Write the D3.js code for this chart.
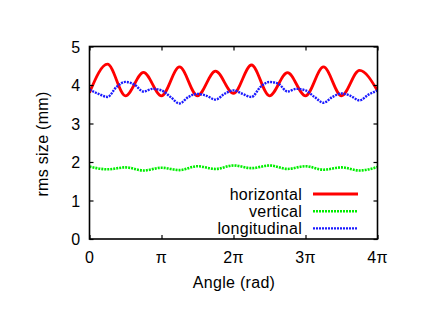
<!DOCTYPE html>
<html>
<head>
<meta charset="utf-8">
<script src="https://cdn.jsdelivr.net/npm/d3@7"></script>
<style>
  html, body { margin: 0; padding: 0; background: #fff; }
  svg { display: block; font-family: "Liberation Sans", Arial, sans-serif; }
  .lbl { font-size: 16px; letter-spacing: 0.3px; fill: #000; }
</style>
</head>
<body>
<svg id="chart" width="421" height="325"></svg>
<script>
// Angles en multiples de pi
const angleQuarter = d3.range(0, 17).map(k => k / 4);
const angleEighth = d3.range(0, 33).map(k => k / 8);

// Tailles rms (mm)
const horizontal = [3.80, 4.54, 3.72, 4.33, 3.72, 4.47, 3.72, 4.36, 3.78,
                    4.52, 3.72, 4.32, 3.72, 4.47, 3.72, 4.38, 3.85];
const vertical = [1.88, 1.81, 1.86, 1.78, 1.85, 1.79, 1.89, 1.82, 1.91,
                  1.84, 1.91, 1.82, 1.89, 1.80, 1.86, 1.78, 1.87];
const longitudinal = [3.88, 3.77, 3.69, 3.95, 4.08, 4.01, 3.83, 3.90, 3.86,
                      3.69, 3.52, 3.69, 3.77, 3.72, 3.62, 3.77, 3.86,
                      3.77, 3.69, 3.95, 4.08, 4.03, 3.83, 3.90, 3.86,
                      3.69, 3.54, 3.69, 3.78, 3.72, 3.60, 3.75, 3.86];

const seriesNames = ['horizontal', 'vertical', 'longitudinal'];
const xTickValues = [0, 1, 2, 3, 4];
const xTickLabels = ['0', 'π', '2π', '3π', '4π'];
const yTickValues = [0, 1, 2, 3, 4, 5];

const series = [
  { name: seriesNames[0], x: angleQuarter, y: horizontal, color: '#ff0000', dash: null, width: 2.8 },
  { name: seriesNames[1], x: angleQuarter, y: vertical, color: '#00ee00', dash: '2,1', width: 2.6 },
  { name: seriesNames[2], x: angleEighth, y: longitudinal, color: '#1a1aff', dash: '2,1', width: 2.4 }
];

const svg = d3.select('#chart');
const margin = { left: 89.5, right: 43.5, top: 46.5, bottom: 86 };
const W = 421, H = 325;
const innerW = W - margin.left - margin.right;
const innerH = H - margin.top - margin.bottom;

const x = d3.scaleLinear().domain([0, 4]).range([margin.left, margin.left + innerW]);
const y = d3.scaleLinear().domain([0, 5]).range([margin.top + innerH, margin.top]);

// Courbes
svg.append('clipPath').attr('id', 'clip')
  .append('rect')
  .attr('x', margin.left).attr('y', margin.top)
  .attr('width', innerW).attr('height', innerH);

const plot = svg.append('g').attr('clip-path', 'url(#clip)');
series.forEach(s => {
  const line = d3.line()
    .x((d, i) => x(s.x[i]))
    .y(d => y(d))
    .curve(d3.curveMonotoneX);
  plot.append('path')
    .datum(s.y)
    .attr('fill', 'none')
    .attr('stroke', s.color)
    .attr('stroke-width', s.width)
    .attr('stroke-dasharray', s.dash)
    .attr('d', line);
});

// Axes style gnuplot : ticks vers l'intérieur sur les quatre côtés
const tick = -4;
svg.append('g')
  .attr('transform', `translate(0,${margin.top + innerH})`)
  .call(d3.axisBottom(x).tickValues(xTickValues).tickSize(tick).tickFormat(''));
svg.append('g')
  .attr('transform', `translate(0,${margin.top})`)
  .call(d3.axisTop(x).tickValues(xTickValues).tickSize(tick).tickFormat(''));
svg.append('g')
  .attr('transform', `translate(${margin.left},0)`)
  .call(d3.axisLeft(y).tickValues(yTickValues).tickSize(tick).tickFormat(''));
svg.append('g')
  .attr('transform', `translate(${margin.left + innerW},0)`)
  .call(d3.axisRight(y).tickValues(yTickValues).tickSize(tick).tickFormat(''));
svg.selectAll('.domain').remove();
svg.selectAll('.tick line').attr('stroke', '#000').attr('stroke-width', 1.2);

svg.append('rect')
  .attr('x', margin.left).attr('y', margin.top)
  .attr('width', innerW).attr('height', innerH)
  .attr('fill', 'none').attr('stroke', '#000').attr('stroke-width', 1.6);

// Libellés des ticks
svg.append('g').selectAll('text')
  .data(xTickValues)
  .enter().append('text')
  .attr('class', 'lbl')
  .attr('x', d => x(d))
  .attr('y', margin.top + innerH + 24)
  .attr('text-anchor', 'middle')
  .text((d, i) => xTickLabels[i]);

svg.append('g').selectAll('text')
  .data(yTickValues)
  .enter().append('text')
  .attr('class', 'lbl')
  .attr('x', margin.left - 9)
  .attr('y', d => y(d) + 6)
  .attr('text-anchor', 'end')
  .text(d => d);

// Titres d'axe
svg.append('text')
  .attr('class', 'lbl')
  .attr('x', 234)
  .attr('y', 287.5)
  .attr('text-anchor', 'middle')
  .text('Angle (rad)');

svg.append('text')
  .attr('class', 'lbl')
  .attr('transform', 'translate(47.5,144) rotate(-90)')
  .attr('text-anchor', 'middle')
  .text('rms size (mm)');

// Légende
const legend = svg.append('g');
series.forEach((s, i) => {
  const ly = 194 + i * 17.2;
  legend.append('text')
    .attr('class', 'lbl')
    .attr('x', 302)
    .attr('y', ly + 6)
    .attr('text-anchor', 'end')
    .text(s.name);
  legend.append('line')
    .attr('x1', 313).attr('x2', 358)
    .attr('y1', ly).attr('y2', ly)
    .attr('stroke', s.color)
    .attr('stroke-width', s.width)
    .attr('stroke-dasharray', s.dash);
});
</script>
</body>
</html>
